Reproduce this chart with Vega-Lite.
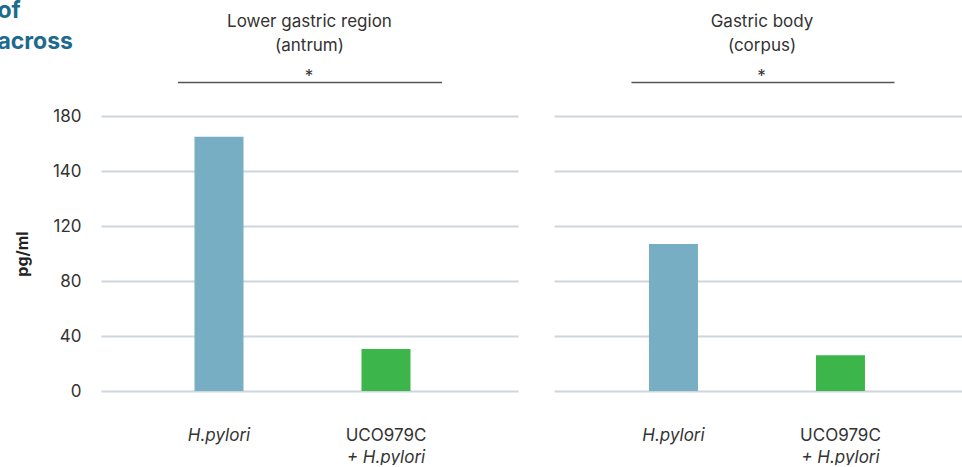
{
  "$schema": "https://vega.github.io/schema/vega-lite/v6.json",
  "background": "white",
  "padding": {"left": -3, "top": 0, "right": 0, "bottom": 0},
  "title": {
    "text": ["of", "across"],
    "anchor": "start",
    "frame": "bounds",
    "font": "Inter",
    "fontSize": 23,
    "fontWeight": "bold",
    "color": "#1d6a8c",
    "lineHeight": 31,
    "offset": -41,
    "dx": -17
  },
  "data": {
    "values": [
      {"region": "antrum", "group": "H.pylori", "value": 165},
      {"region": "antrum", "group": "UCO979C + H.pylori", "value": 30.5},
      {"region": "corpus", "group": "H.pylori", "value": 107},
      {"region": "corpus", "group": "UCO979C + H.pylori", "value": 26}
    ]
  },
  "config": {
    "view": {"stroke": null},
    "font": "Inter",
    "axis": {"labelFont": "Inter", "titleFont": "Inter"}
  },
  "spacing": 36,
  "resolve": {"scale": {"x": "independent", "y": "independent"}},
  "hconcat": [
    {
      "width": 417,
      "height": 275,
      "title": {
        "text": ["Lower gastric region", "(antrum)"],
        "frame": "group",
        "anchor": "middle",
        "font": "Inter",
        "fontSize": 17,
        "fontWeight": "normal",
        "color": "#333333",
        "lineHeight": 24,
        "offset": 13
      },
      "resolve": {"axis": {"x": "independent"}},
      "layer": [
        {
          "transform": [{"filter": "datum.region == 'antrum'"}],
          "mark": {"type": "bar", "width": 49},
          "encoding": {
            "x": {
              "field": "group",
              "type": "nominal",
              "scale": {"domain": ["H.pylori", "UCO979C + H.pylori"], "paddingInner": 0, "paddingOuter": 0.2485, "align": 0.4157},
              "axis": {
                "orient": "bottom",
                "title": null,
                "domain": false,
                "ticks": false,
                "grid": false,
                "labelAngle": 0,
                "labelPadding": 36,
                "labelFontSize": 17,
                "labelColor": "#333333",
                "labelExpr": "datum.value == 'H.pylori' ? 'H.pylori' : 'UCO979C'",
                "labelFontStyle": {"condition": {"test": "datum.value == 'H.pylori'", "value": "italic"}, "value": "normal"}
              }
            },
            "y": {
              "field": "value",
              "type": "quantitative",
              "scale": {"domain": [0, 40, 80, 120, 140, 180], "range": [275, 220, 165, 110, 55, 0], "nice": false, "zero": false},
              "axis": {
                "values": [0, 40, 80, 120, 140, 180],
                "title": "pg/ml",
                "titleFontSize": 16,
                "titleFontWeight": "bold",
                "titleColor": "#222222",
                "titlePadding": 22,
                "labelFontSize": 17,
                "labelColor": "#333333",
                "labelPadding": 20,
                "ticks": false,
                "domain": false,
                "grid": true,
                "gridColor": "#cdd6df",
                "gridWidth": 2
              }
            },
            "color": {
              "field": "group",
              "type": "nominal",
              "scale": {"domain": ["H.pylori", "UCO979C + H.pylori"], "range": ["#78aec4", "#3cb54a"]},
              "legend": null
            }
          }
        },
        {
          "data": {"values": [{"mark": "bracket"}]},
          "mark": {"type": "rule", "color": "#555555", "strokeWidth": 1.5, "xOffset": -41, "x2Offset": 56},
          "encoding": {
            "x": {"datum": "H.pylori", "type": "nominal", "bandPosition": 0.5, "axis": null},
            "x2": {"datum": "UCO979C + H.pylori", "bandPosition": 0.5},
            "y": {"datum": 204.3, "type": "quantitative"}
          }
        },
        {
          "data": {"values": [{"label": "*"}]},
          "mark": {"type": "text", "fontSize": 17, "xOffset": 90, "baseline": "alphabetic", "color": "#333333"},
          "encoding": {
            "text": {"field": "label"},
            "x": {
              "datum": "H.pylori",
              "type": "nominal",
              "bandPosition": 0.5,
              "axis": {
                "orient": "bottom",
                "title": null,
                "domain": false,
                "ticks": false,
                "grid": false,
                "labelAngle": 0,
                "labelPadding": 58,
                "labelFontSize": 17,
                "labelColor": "#333333",
                "labelFontStyle": "italic",
                "labelExpr": "datum.value == 'H.pylori' ? '' : '+ H.pylori'"
              }
            },
            "y": {"datum": 204.5, "type": "quantitative"}
          }
        }
      ]
    },
    {
      "width": 408,
      "height": 275,
      "title": {
        "text": ["Gastric body", "(corpus)"],
        "frame": "group",
        "anchor": "middle",
        "font": "Inter",
        "fontSize": 17,
        "fontWeight": "normal",
        "color": "#333333",
        "lineHeight": 24,
        "offset": 13,
        "dx": 4
      },
      "resolve": {"axis": {"x": "independent"}},
      "layer": [
        {
          "transform": [{"filter": "datum.region == 'corpus'"}],
          "mark": {"type": "bar", "width": 49},
          "encoding": {
            "x": {
              "field": "group",
              "type": "nominal",
              "scale": {"domain": ["H.pylori", "UCO979C + H.pylori"], "paddingInner": 0, "paddingOuter": 0.2216, "align": 0.486},
              "axis": {
                "orient": "bottom",
                "title": null,
                "domain": false,
                "ticks": false,
                "grid": false,
                "labelAngle": 0,
                "labelPadding": 36,
                "labelFontSize": 17,
                "labelColor": "#333333",
                "labelExpr": "datum.value == 'H.pylori' ? 'H.pylori' : 'UCO979C'",
                "labelFontStyle": {"condition": {"test": "datum.value == 'H.pylori'", "value": "italic"}, "value": "normal"}
              }
            },
            "y": {
              "field": "value",
              "type": "quantitative",
              "scale": {"domain": [0, 40, 80, 120, 140, 180], "range": [275, 220, 165, 110, 55, 0], "nice": false, "zero": false},
              "axis": {
                "values": [0, 40, 80, 120, 140, 180],
                "title": null,
                "labels": false,
                "ticks": false,
                "domain": false,
                "grid": true,
                "gridColor": "#cdd6df",
                "gridWidth": 2
              }
            },
            "color": {
              "field": "group",
              "type": "nominal",
              "scale": {"domain": ["H.pylori", "UCO979C + H.pylori"], "range": ["#78aec4", "#3cb54a"]},
              "legend": null
            }
          }
        },
        {
          "data": {"values": [{"mark": "bracket"}]},
          "mark": {"type": "rule", "color": "#555555", "strokeWidth": 1.5, "xOffset": -42, "x2Offset": 54},
          "encoding": {
            "x": {"datum": "H.pylori", "type": "nominal", "bandPosition": 0.5, "axis": null},
            "x2": {"datum": "UCO979C + H.pylori", "bandPosition": 0.5},
            "y": {"datum": 204.3, "type": "quantitative"}
          }
        },
        {
          "data": {"values": [{"label": "*"}]},
          "mark": {"type": "text", "fontSize": 17, "xOffset": 88, "baseline": "alphabetic", "color": "#333333"},
          "encoding": {
            "text": {"field": "label"},
            "x": {
              "datum": "H.pylori",
              "type": "nominal",
              "bandPosition": 0.5,
              "axis": {
                "orient": "bottom",
                "title": null,
                "domain": false,
                "ticks": false,
                "grid": false,
                "labelAngle": 0,
                "labelPadding": 58,
                "labelFontSize": 17,
                "labelColor": "#333333",
                "labelFontStyle": "italic",
                "labelExpr": "datum.value == 'H.pylori' ? '' : '+ H.pylori'"
              }
            },
            "y": {"datum": 204.5, "type": "quantitative"}
          }
        }
      ]
    }
  ]
}
